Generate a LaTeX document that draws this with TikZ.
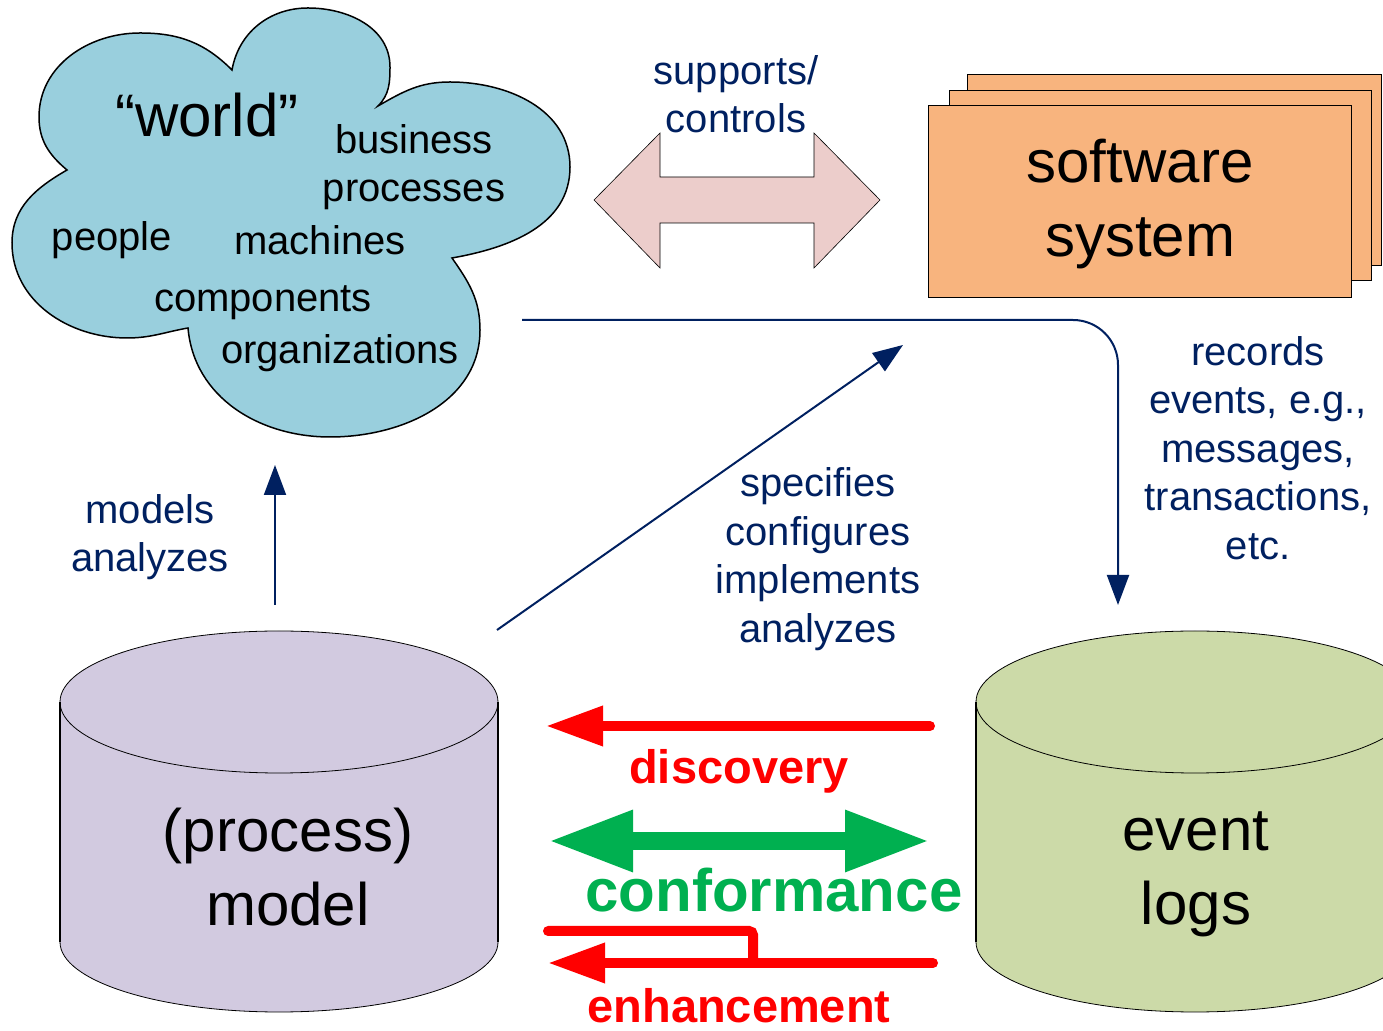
\documentclass[tikz,border=0pt]{standalone}
\usepackage{fontspec}
\setmainfont{Liberation Sans}
\usetikzlibrary{arrows.meta}

\definecolor{cloudblue}{RGB}{153,207,221}
\definecolor{linkpink}{RGB}{236,205,203}
\definecolor{softorange}{RGB}{248,180,126}
\definecolor{modelpurple}{RGB}{210,202,224}
\definecolor{loggreen}{RGB}{204,218,168}
\definecolor{navy}{RGB}{0,32,96}
\definecolor{pmred}{RGB}{255,0,0}
\definecolor{pmgreen}{RGB}{0,176,80}

\begin{document}
\begin{tikzpicture}[x=1pt,y=1pt,
    bigtext/.style={font=\fontsize{60}{74}\selectfont,align=center,inner sep=0pt},
    smalltext/.style={font=\fontsize{40}{48.5}\selectfont,align=center,inner sep=0pt},
    bluetext/.style={smalltext,text=navy},
    navyarrow/.style={draw=navy,line width=2pt,-{Triangle[length=30pt,width=22pt]}},
    redarrow/.style={draw=pmred,line width=10pt,line cap=round,-{Triangle[length=57pt,width=38pt]}},
    cylside/.style={draw=black,line width=1.6pt}]

    % 边界
    \useasboundingbox (0,0) rectangle (1383,1030);
    \clip (0,0) rectangle (1383,1030);

    % 云: 缺口点
    \coordinate (P1) at (67,860);
    \coordinate (P2) at (232,960);
    \coordinate (P3) at (378,924);
    \coordinate (P4) at (452,772);
    \coordinate (P5) at (188,702);

    \draw[fill=cloudblue,line width=1.5pt]
        (P1) to[out=140,in=-90] (39,913) to[out=90,in=180] (140,997) to[out=0,in=135] (P2)
        to[out=80,in=180] (308,1022) to[out=0,in=90] (390,963) to[out=-90,in=45] (P3)
        to[out=30,in=180] (450,948) to[out=0,in=90] (570,863) to[out=-90,in=10] (P4)
        to[out=-55,in=90] (480,700) to[out=-90,in=0] (330,593) to[out=180,in=-85] (P5)
        to[out=-170,in=0] (127,692) to[out=180,in=-90] (12,787) to[out=90,in=-150] (P1) -- cycle;

    % 云里的文字
    \node[bigtext] (world) at (207,915) {“world”};
    \node[smalltext] (bp) at (414,863) {business\\processes};
    \node[smalltext] (people) at (112,790) {people};
    \node[smalltext] (machines) at (320,790) {machines};
    \node[smalltext] (components) at (263,727) {components};
    \node[smalltext] (orgs) at (340,677) {organizations};

    % 双向箭头 supports/controls
    \draw[fill=linkpink,line width=0.6pt] (594,830) -- (660,897) -- (660,853) -- (814,853)
        -- (814,897) -- (880,830) -- (814,762) -- (814,807) -- (660,807) -- (660,762) -- cycle;
    \node[bluetext] (supports) at (736,936) {supports/\\controls};

    % 软件系统
    \draw[fill=softorange,line width=0.8pt] (967,765) rectangle (1381,956);
    \draw[fill=softorange,line width=0.8pt] (949,750) rectangle (1371,940);
    \draw[fill=softorange,line width=0.8pt] (928,733) rectangle (1351,925);
    \node[bigtext] (software) at (1140,826) {software\\system};

    % 模型圆柱
    \fill[modelpurple] (60,328) -- (60,88) arc[start angle=180,end angle=360,x radius=219,y radius=70]
        -- (498,328) arc[start angle=0,end angle=180,x radius=219,y radius=71] -- cycle;
    \draw[line width=0.8pt] (60,88) arc[start angle=180,end angle=360,x radius=219,y radius=70];
    \draw[line width=0.8pt] (279,328) ellipse[x radius=219,y radius=71];
    \draw[cylside] (60,328) -- (60,88);
    \draw[cylside] (498,328) -- (498,88);
    \node[bigtext] (model) at (288,163) {(process)\\model};

    % 日志圆柱
    \fill[loggreen] (976,328) -- (976,88) arc[start angle=180,end angle=360,x radius=219,y radius=70]
        -- (1414,328) arc[start angle=0,end angle=180,x radius=219,y radius=71] -- cycle;
    \draw[line width=0.8pt] (976,88) arc[start angle=180,end angle=360,x radius=219,y radius=70];
    \draw[line width=0.8pt] (1195,328) ellipse[x radius=219,y radius=71];
    \draw[cylside] (976,328) -- (976,88);
    \node[bigtext] (logs) at (1196,156) {event\\logs};

    % 蓝色连线
    \coordinate (M1) at (275,425);
    \coordinate (M2) at (275,565);
    \draw[navyarrow] (M1) -- (M2);
    \node[bluetext] (models) at (150,493) {models\\analyzes};

    \coordinate (S1) at (497,400);
    \coordinate (S2) at (903,685);
    \draw[navyarrow] (S1) -- (S2);
    \node[bluetext] (specifies) at (818,471) {specifies\\configures\\implements\\analyzes};

    \coordinate (R1) at (522,710);
    \coordinate (R2) at (1118,710);
    \coordinate (R3) at (1118,425);
    \draw[navyarrow,rounded corners=45pt] (R1) -- (R2) -- (R3);
    \node[bluetext] (records) at (1258,582) {records\\events, e.g.,\\messages,\\transactions,\\etc.};

    % discovery
    \coordinate (D1) at (930,304);
    \coordinate (D2) at (546,304);
    \draw[redarrow] (D1) -- (D2);
    \node[font=\fontsize{47}{56}\selectfont\bfseries,text=pmred,inner sep=0pt] (discovery) at (739,259) {discovery};

    % conformance
    \coordinate (C1) at (548,189);
    \coordinate (C2) at (930,189);
    \draw[draw=pmgreen,line width=18pt,{Triangle[length=85pt,width=57pt]}-{Triangle[length=85pt,width=57pt]}] (C1) -- (C2);
    \node[font=\fontsize{60}{70}\selectfont\bfseries,text=pmgreen,inner sep=0pt] (conformance) at (774,140) {conformance};

    % enhancement
    \coordinate (E1) at (548,99);
    \coordinate (E2) at (753,99);
    \coordinate (E3) at (753,67);
    \coordinate (E4) at (933,67);
    \coordinate (E5) at (548,67);
    \draw[draw=pmred,line width=10pt,line cap=round,rounded corners=4pt] (E1) -- (E2) -- (E3);
    \draw[redarrow] (E4) -- (E5);
    \node[font=\fontsize{47}{56}\selectfont\bfseries,text=pmred,inner sep=0pt] (enhancement) at (739,24) {enhancement};

\end{tikzpicture}
\end{document}
